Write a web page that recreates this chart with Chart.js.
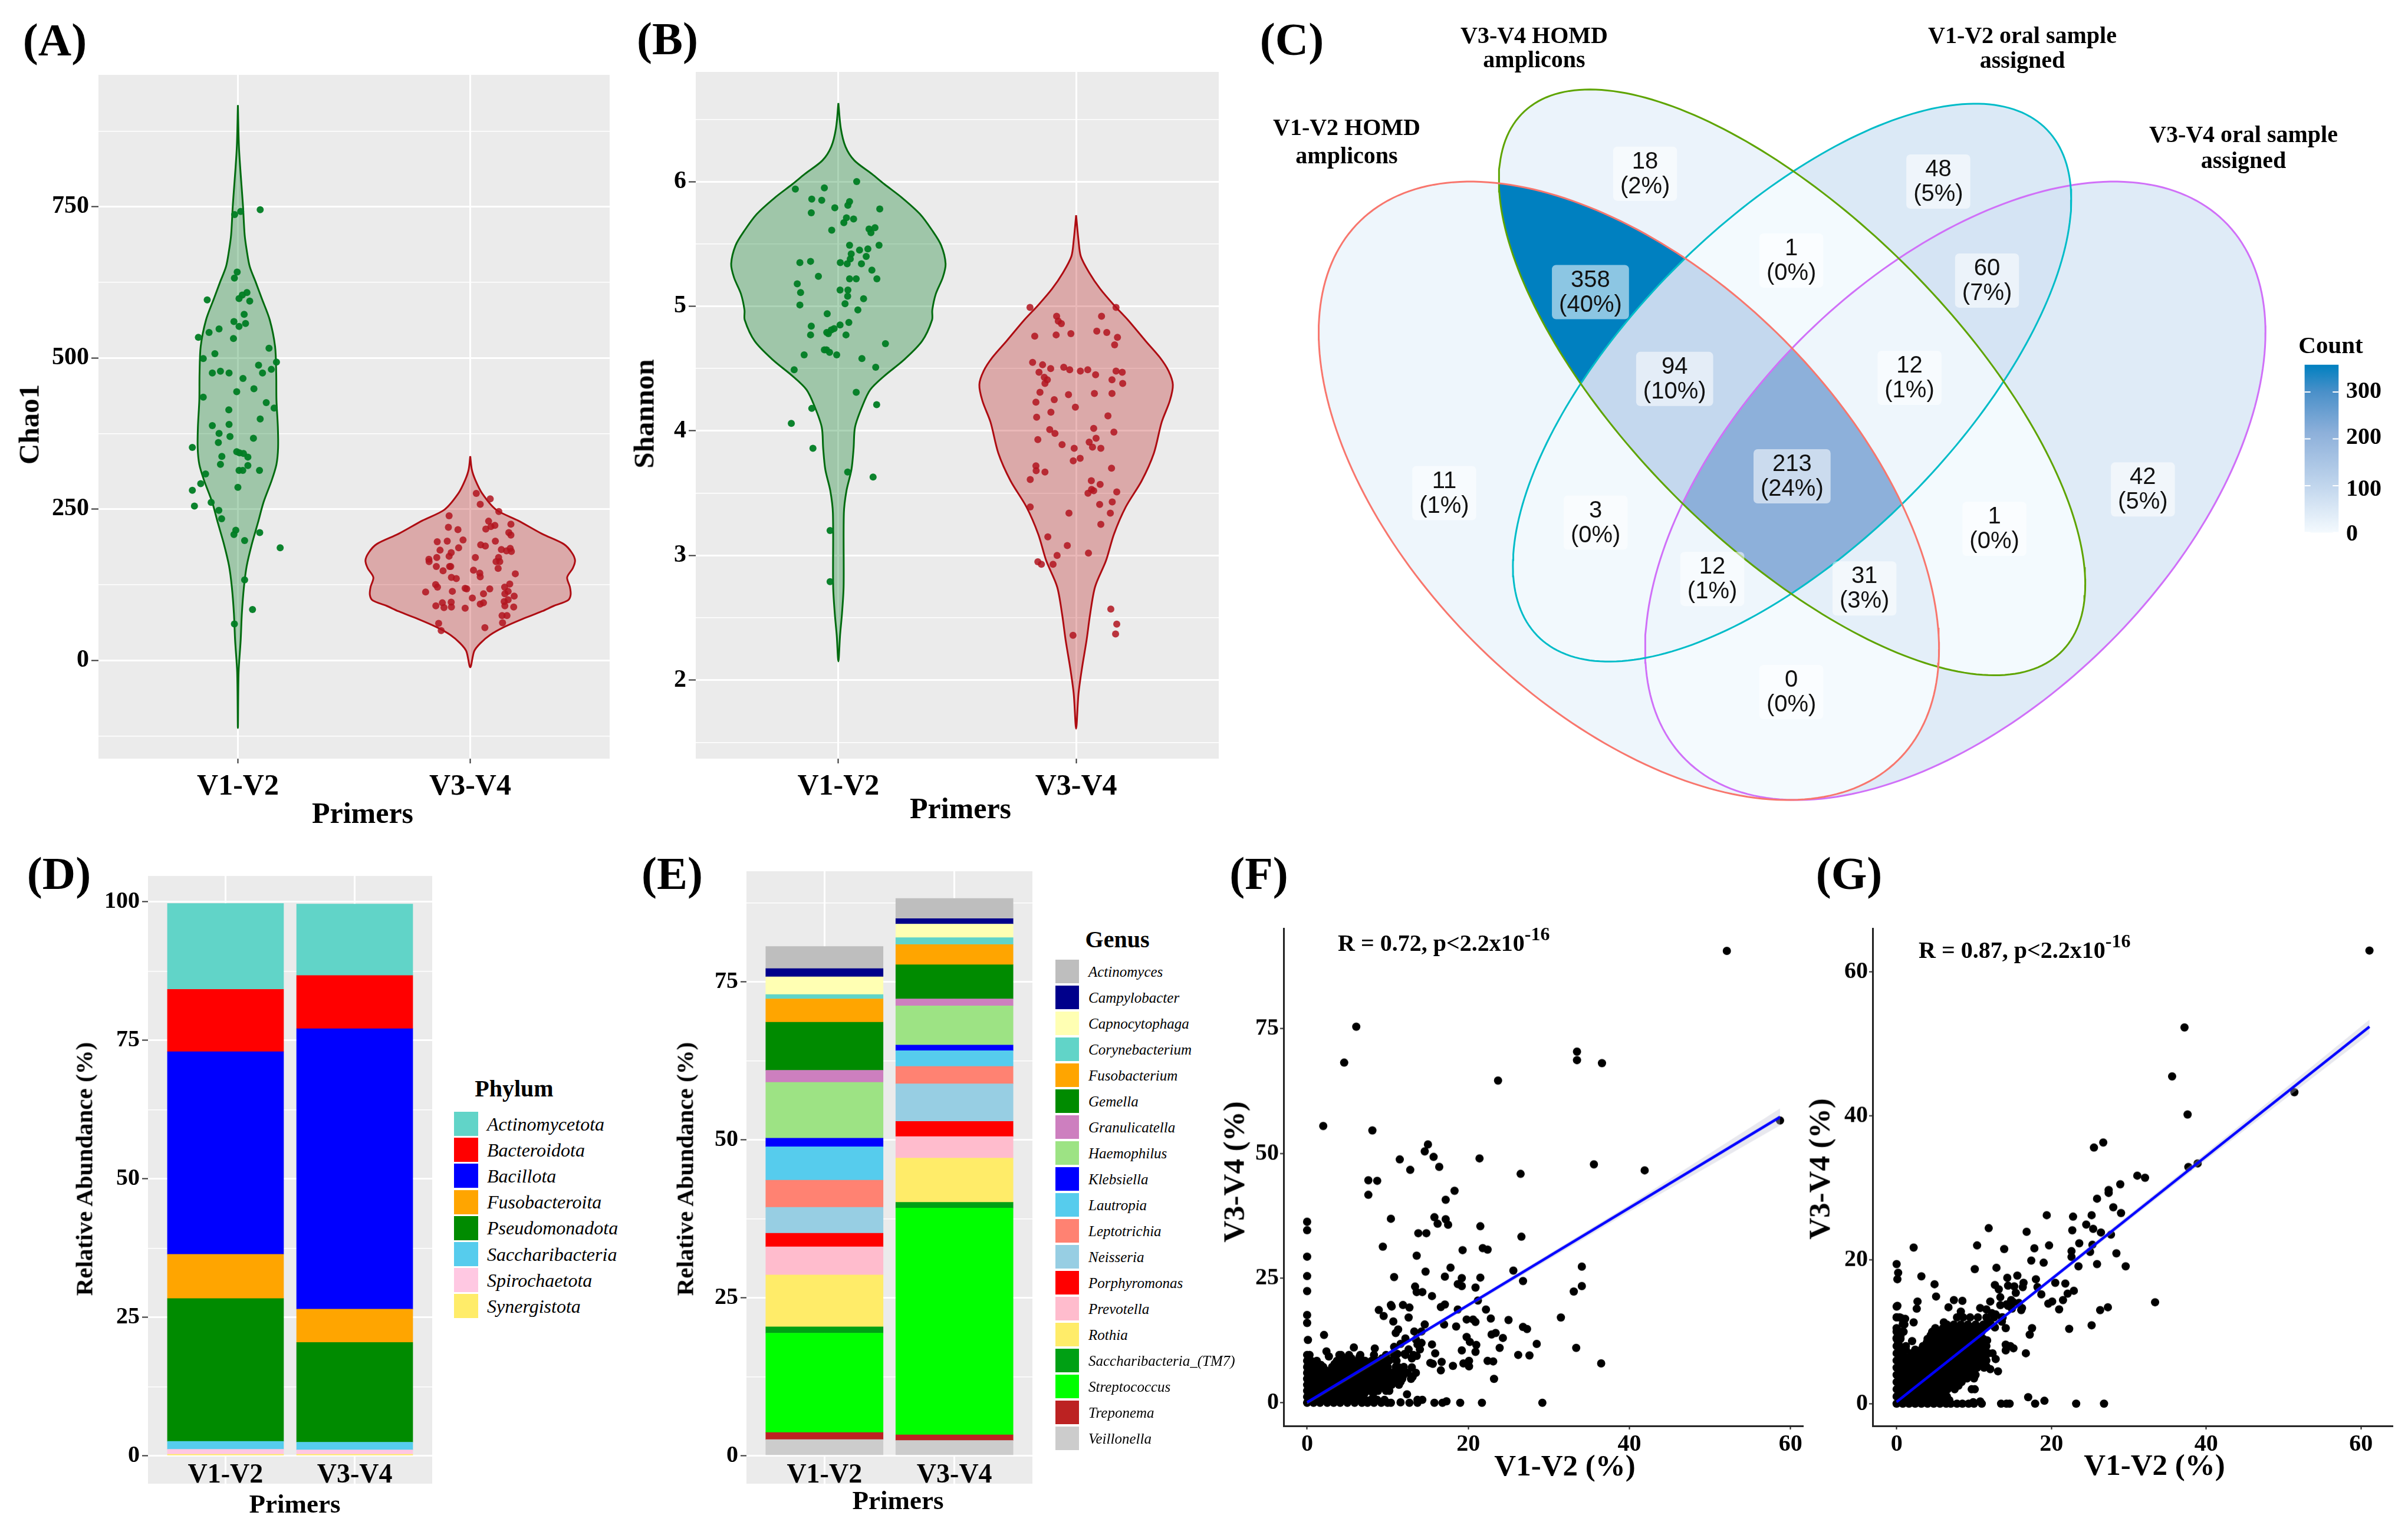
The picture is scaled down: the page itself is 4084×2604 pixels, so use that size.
<!DOCTYPE html>
<html>
<head>
<meta charset="utf-8">
<title>Primers figure</title>
<script src="https://cdn.jsdelivr.net/npm/chart.js@4"></script>
<style>
html, body { margin: 0; padding: 0; background: #fff; }
#page { position: relative; width: 4084px; height: 2604px; overflow: hidden; background: #fff; }
#page canvas { position: absolute; }
.txt { position: absolute; white-space: nowrap; line-height: 1; color: #000; z-index: 5; font-family: "Liberation Serif", serif; }
.txt sup { font-size: 0.8em; line-height: 0; vertical-align: 0.55em; }
.swatch { position: absolute; z-index: 4; }
</style>
</head>
<body>
<div id="page"></div>
<script>
var primers = ['V1-V2', 'V3-V4'];
var primerTicks = [1, 2];

// (A) Chao1 violin outlines: y value and half width in category units
var chaoTicks = [-125, 0, 125, 250, 375, 500, 625, 750, 875];
var chaoV12OutlineY = [918, 845, 751, 704, 678, 651, 625, 598, 563, 519, 474, 430, 386, 351, 324, 298, 262, 227, 192, 156, 121, 77, 33, -20, -112];
var chaoV12OutlineW = [0, .005, .022, .029, .038, .051, .077, .103, .137, .16, .165, .166, .172, .173, .166, .146, .111, .086, .06, .038, .026, .017, .012, .003, 0];
var chaoV34OutlineY = [337.5, 315, 298, 276, 249, 231, 209, 192, 178, 165, 152, 137, 121, 108, 99, 90, 81, 68, 55, 42, 28, 15, -11.5];
var chaoV34OutlineW = [0, .007, .022, .051, .111, .206, .309, .403, .437, .451, .441, .417, .429, .432, .42, .36, .309, .223, .146, .086, .043, .017, 0];

var chaoV12X = [1.096, 1.012, .986, .997, .985, 1.039, 1.019, 1.005, 1.051, .868, 1.027, .983, 1.033, 1.005, .919, .876, .83, .981, 1.134, .901, .851, 1.166, 1.089, 1.144, 1.106, .89, .925, .962, 1.022, 1.069, .995, .851, 1.122, 1.156, .961, 1.096, .962, .89, .919, .966, 1.067, .916, .804, .995, 1.007, 1.024, .931, 1.043, .925, 1.043, 1.005, 1.021, 1.093, .861, .84, 1, .804, .885, .813, .918, .93, .991, .983, 1.094, 1.029, 1.182, 1.029, 1.063, .985];
var chaoV12Y = [745, 742, 737, 642, 632, 608, 604, 598, 594, 596, 572, 560, 557, 552, 548, 542, 534, 532, 516, 507, 499, 493, 488, 481, 475, 475, 478, 475, 466, 449, 444, 435, 426, 417, 414, 399, 390, 388, 375, 370, 367, 360, 352, 345, 343, 342, 337, 336, 324, 322, 314, 314, 314, 308, 292, 286, 281, 261, 255, 248, 234, 215, 208, 211, 198, 186, 133, 84, 60];
var chaoV34X = [2.026, 2.086, 2.043, 2.123, 1.909, 2.079, 2.175, 1.906, 2.106, 2.089, 2.067, 1.947, 2.166, 2.175, 1.858, 1.901, 1.969, 2.108, 2.045, 2.065, 1.95, 1.87, 1.918, 2.134, 2.156, 2.172, 2.177, 1.856, 1.909, 1.822, 1.823, 2.022, 2.122, 2.111, 2.127, 1.911, 1.854, 1.916, 2.12, 1.883, 2.014, 2.041, 2.194, 2.043, 1.919, 1.94, 1.851, 1.859, 2.17, 2.148, 1.808, 1.923, 1.978, 1.985, 2.084, 2.057, 2.163, 2.149, 2.189, 2.009, 2.163, 2.146, 1.852, 1.88, 1.918, 1.887, 1.919, 2.043, 2.057, 1.978, 2.149, 2.187, 2.137, 2.158, 2.139, 1.864, 2.063, 1.875];
var chaoV34Y = [276, 267, 258, 246, 239, 230, 225, 220, 223, 221, 217, 216, 211, 207, 196, 197, 199, 197, 191, 189, 186, 182, 178, 183, 181, 185, 180, 170, 172, 167, 163, 170, 170, 163, 163, 155, 155, 155, 152, 148, 149, 144, 143, 138, 137, 135, 125, 121, 126, 121, 113, 114, 119, 118, 118, 110, 114, 110, 106, 103, 100, 97, 90, 95, 96, 87, 88, 93, 95, 86, 90, 88, 74, 74, 62, 61, 54, 49];

// (B) Shannon
var shanTicks = [1.5, 2, 2.5, 3, 3.5, 4, 4.5, 5, 5.5, 6, 6.5];
var shanV12OutlineY = [6.63, 6.43, 6.28, 6.17, 6.06, 5.98, 5.87, 5.74, 5.61, 5.49, 5.34, 5.23, 5.1, 4.97, 4.89, 4.72, 4.57, 4.44, 4.33, 4.2, 4.03, 3.86, 3.69, 3.52, 3.34, 2.75, 2.53, 2.36, 2.15];
var shanV12OutlineW = [0, .01, .03, .067, .142, .193, .268, .343, .394, .432, .451, .439, .41, .395, .394, .352, .276, .193, .134, .101, .07, .064, .055, .034, .023, .022, .015, .007, 0];
var shanV34OutlineY = [5.73, 5.53, 5.4, 5.27, 5.14, 5.01, 4.89, 4.72, 4.59, 4.48, 4.37, 4.24, 4.07, 3.82, 3.6, 3.39, 3.17, 2.96, 2.75, 2.53, 2.32, 2.1, 1.89, 1.61];
var shanV34OutlineW = [0, .01, .02, .055, .101, .159, .218, .293, .352, .389, .407, .394, .36, .327, .276, .209, .159, .126, .08, .059, .044, .025, .01, 0];

var shanV12X = [1.077, .941, .819, .888, .93, 1.047, 1.04, .985, 1.174, .886, 1.034, 1.064, 1.023, 1.129, 1.154, .972, 1.137, 1.047, 1.171, 1.089, 1.124, 1.054, 1.117, 1.05, .838, .883, 1.008, 1.037, 1.097, 1.141, .916, 1.047, 1.075, 1.162, .827, 1.04, 1.007, .841, 1.039, 1.106, .838, 1.028, 1.082, .953, 1.044, 1.007, .886, .982, .97, .951, .958, .883, 1.032, 1.198, .95, .941, .963, .856, .993, 1.099, .814, 1.157, 1.075, 1.161, .888, .802, .893, 1.039, 1.146, .965, .965];
var shanV12Y = [6, 5.95, 5.94, 5.86, 5.85, 5.84, 5.81, 5.79, 5.78, 5.75, 5.71, 5.7, 5.67, 5.62, 5.63, 5.61, 5.59, 5.49, 5.49, 5.45, 5.46, 5.42, 5.4, 5.38, 5.35, 5.36, 5.35, 5.34, 5.34, 5.29, 5.24, 5.22, 5.22, 5.22, 5.18, 5.13, 5.13, 5.11, 5.08, 5.06, 5.01, 5.02, 4.97, 4.94, 4.87, 4.85, 4.84, 4.82, 4.81, 4.79, 4.78, 4.77, 4.77, 4.7, 4.65, 4.65, 4.63, 4.61, 4.61, 4.58, 4.49, 4.51, 4.31, 4.21, 4.18, 4.06, 3.86, 3.67, 3.63, 3.2, 2.79];
var shanV34X = [1.806, 2.168, 1.918, 2.107, 1.925, 1.938, 2.087, 2.129, 1.978, 1.826, 1.916, 2.174, 2.162, 1.817, 1.859, 1.893, 1.948, 1.973, 2.018, 2.049, 2.168, 2.194, 1.844, 2.082, 1.866, 2.151, 1.879, 1.869, 2.196, 1.848, 1.968, 2.077, 2.151, 1.908, 1.831, 1.997, 1.894, 1.834, 2.134, 1.889, 2.074, 1.911, 2.159, 1.839, 2.084, 2.055, 1.941, 1.992, 2.069, 2.104, 2.017, 1.988, 2.149, 1.831, 1.832, 1.869, 1.807, 2.064, 2.101, 2.065, 2.074, 2.171, 2.05, 2.152, 2.099, 1.807, 1.97, 2.144, 2.104, 1.881, 1.963, 2.052, 1.92, 1.839, 1.854, 1.903, 2.146, 2.171, 2.166, 1.987];
var shanV34Y = [4.99, 4.99, 4.92, 4.92, 4.88, 4.86, 4.8, 4.79, 4.78, 4.76, 4.77, 4.75, 4.69, 4.55, 4.53, 4.5, 4.51, 4.49, 4.48, 4.49, 4.48, 4.47, 4.47, 4.45, 4.43, 4.41, 4.41, 4.38, 4.38, 4.31, 4.29, 4.3, 4.3, 4.25, 4.23, 4.19, 4.15, 4.11, 4.12, 4.01, 4.02, 3.98, 3.99, 3.93, 3.94, 3.91, 3.89, 3.86, 3.87, 3.86, 3.78, 3.76, 3.7, 3.72, 3.68, 3.67, 3.61, 3.6, 3.57, 3.53, 3.52, 3.51, 3.5, 3.43, 3.41, 3.39, 3.34, 3.34, 3.25, 3.15, 3.08, 3.02, 3, 2.95, 2.93, 2.93, 2.57, 2.45, 2.37, 2.36];

// (C) Venn regions
var vennMasks = ['R', 'G', 'C', 'M', 'RG', 'GC', 'CM', 'RC', 'RM', 'GM', 'RGC', 'GCM', 'RCM', 'RGM', 'RGCM'];
var vennCounts = [11, 18, 48, 42, 358, 1, 60, 3, 0, 1, 94, 12, 12, 31, 213];
var vennPercents = [1, 2, 5, 5, 40, 0, 7, 0, 0, 0, 10, 1, 1, 3, 24];
var countTicks = [0, 100, 200, 300];

// (D) phylum stacks, legend order
var phylumTicks = [0, 12.5, 25, 37.5, 50, 62.5, 75, 87.5, 100];
var phylumNames = ['Actinomycetota', 'Bacteroidota', 'Bacillota', 'Fusobacteroita', 'Pseudomonadota', 'Saccharibacteria', 'Spirochaetota', 'Synergistota'];
var phylumV12 = [15.5, 11.25, 36.55, 8, 25.75, 1.45, .9, .3];
var phylumV34 = [12.9, 9.6, 50.6, 6, 18, 1.4, .8, .3];

// (E) genus stacks, legend order
var genusTicks = [0, 12.5, 25, 37.5, 50, 62.5, 75, 87.5];
var genusNames = ['Actinomyces', 'Campylobacter', 'Capnocytophaga', 'Corynebacterium', 'Fusobacterium', 'Gemella', 'Granulicatella', 'Haemophilus', 'Klebsiella', 'Lautropia', 'Leptotrichia', 'Neisseria', 'Porphyromonas', 'Prevotella', 'Rothia', 'Saccharibacteria_(TM7)', 'Streptococcus', 'Treponema', 'Veillonella'];
var genusV12 = [3.5, 1.3, 2.8, .7, 3.7, 7.6, 1.9, 8.85, 1.35, 5.3, 4.3, 4.1, 2.15, 4.45, 8.2, 1, 15.74, 1.12, 2.54];
var genusV34 = [3.2, .85, 2.15, 1.1, 3.2, 5.4, 1.1, 6.2, .9, 2.5, 2.75, 5.95, 2.4, 3.4, 7, .9, 35.9, .9, 2.4];

// (F) scatter
var fXTicks = [0, 20, 40, 60];
var fYTicks = [0, 25, 50, 75];
var fX = [52.1, 6.1, 4.6, 33.5, 33.5, 36.6, 23.7, 2, 8.1, 58.7, 15, 14.6, 11.5, 15.7, 21.4, 16.4, 12.8, 26.5, 35.6, 41.9, 7.6, 8.7, 7.6, 18.3, 17.2, 0, 10.4, 0, 15.8, 16.2, 17.2, 17.5, 21.5, 13.8, 14.8, 9.4, 26.6, 19.3, 21.8, 22.4, 13.6, 0, 17.8, 34.1, 25.6, 14.7, 0, 10.8, 17.1, 19.2, 21.5, 26.8, 18.7, 19.2, 20.9, 13.4, 34.1, 33.1, 0, 13.6, 14.3, 15.5, 11.9, 10.4, 10.5, 16.6, 17.1, 12.7, 8.9, 18.7, 22.2, 21.2, 9.5, 12.6, 0, 19.8, 20.6, 20.9, 22.8, 25, 31.5, 10.7, 0, 14.6, 17, 18.5, 26.8, 27.3, 11.3, 11, 13.3, 14.2, 2.1, 23.4, 22.9, 19.8, 24.3, 20.2, 12.2, .1, 15.5, 21, 28.5, 13.7, 23.9, 33.4, 19.2, 20.9, 5.8, 8.4, 10.8, 11.6, 15.9, 26.2, 27.6, 2.4, 2.7, 4, 6.5, 20.1, 22.4, 23.1, 36.5, 15.3, 19.4, 16.7, 15.6, 18.1, 20.1, 16.6, 23.2, 13.1, 12.4, 1.7, .8, 11.6, 12.7, 13.7, 13.7, 14.3, 15.8, 16.8, 17.3, 19, 21.7, 29.2, 13.6, 14, 12.1, 12.6, 13, 14.2, 13.5, 11.2, 10.2, 9.8, 11.4, 13, 12.1, 9.3, 8.3, 6.9, 5.5, 4.3, 4.8, 3.2];
var fY = [90.6, 75.4, 68.2, 70.4, 68.7, 68.1, 64.6, 55.5, 54.6, 56.6, 51.8, 50.4, 48.8, 49.3, 49, 47.3, 46.7, 45.9, 47.8, 46.6, 44.6, 44.5, 41.7, 42.5, 40.7, 36.3, 36.9, 34.6, 37.2, 35.9, 36.8, 35.7, 35.4, 34, 34, 31.3, 33.3, 30.6, 31, 30.7, 29.5, 29.3, 27.1, 27.3, 26.5, 26.3, 25.4, 25.2, 25.3, 25, 25.1, 24.4, 23.8, 23.4, 23.1, 23.3, 23.4, 22.3, 22.4, 22.2, 22.2, 21.4, 19.6, 19.6, 19.3, 19.2, 19.7, 19.1, 18.6, 18.7, 18.7, 20.5, 17.4, 17.1, 17.6, 16.7, 16.7, 16.2, 16.9, 16.6, 17.1, 16.3, 16, 15.7, 15.7, 15.3, 15.2, 14.8, 14.7, 14, 14.3, 14.3, 13.6, 14, 13.7, 13.2, 13, 12.2, 12.9, 12.6, 11.7, 11.6, 11.8, 11.7, 11, 11, 10.5, 10.2, 11.1, 10.9, 11.2, 11.8, 9.9, 9.6, 9.5, 10.3, 9.3, 9.6, 9.2, 8.4, 8.4, 8.3, 7.9, 8, 7.9, 8.2, 7.8, 7.4, 7.3, 6.5, 4.8, 5.2, 1.7, 7.6, 8.2, .1, 0, 0, .6, .6, 0, 0, .3, 0, 0, 0, 9.4, 10.7, 9.8, 10.7, 8.9, 12, 12.7, 9.8, 8.5, 7.1, 7.1, 7.1, 6.3, 8.9, 8.5, 8.5, 8.9, 8, 8.9, 7.1];
var fClusterY = [0, .6, 1.2, 1.8, 2.4, 3, 3.6, 4.2, 4.8, 5.4, 6, 6.6, 7.2, 7.8, 8.4, 9.6];
var fClusterX = [
    [0, .8, 1.6, 2.5, 3.3, 4.1, 5, 5.9, 6.8, 7.5, 8.3, 9.2, 10, 10.4],
    [.4, 1.2, 2, 2.9, 3.7, 4.6, 5.5, 6.4, 7.2, 7.9, 8.7, 9.6],
    [0, .9, 1.7, 2.6, 3.4, 4.3, 5.1, 6, 6.6],
    [.4, 1.3, 2.1, 3, 3.8, 4.7, 5.5, 6.3, 7.1, 8.2],
    [0, .8, 1.6, 2.5, 3.4, 4.2, 5, 5.8, 6.7, 7.5, 8.8, 9.8, 10.2],
    [.4, 1.2, 2.1, 3, 3.8, 4.7, 5.6, 6.4, 7.3, 8.1, 9, 10],
    [0, .9, 1.8, 2.6, 3.5, 4.3, 5.2, 6, 6.9, 7.7, 8.6, 9.5, 10.5, 11.4],
    [.4, 1.3, 2.1, 3, 3.8, 4.7, 5.6, 6.3, 7.2, 8, 8.9, 9.8, 10.7, 11.6],
    [0, .8, 1.7, 2.5, 3.4, 4.2, 5, 5.9, 6.7, 7.6, 8.4, 9.3, 10.1, 11, 11.8, 12.9],
    [.4, 1.3, 2.1, 3, 3.9, 4.8, 5.6, 6.5, 7.4, 8.3, 9.1, 10, 10.8, 11.9],
    [0, .9, 1.7, 2.6, 3.5, 4.4, 5.2, 6.1, 7, 7.9, 8.7, 9.6, 10.4, 11.3, 12.5, 13.5],
    [.4, 1.2, 2.2, 3, 3.9, 4.8, 5.7, 6.6, 7.5, 8.4, 9.2, 10, 11],
    [0, .8, 2, 3.1, 3.9, 4.8, 5.7, 6.6, 7.4, 8.3, 9.2, 10, 11, 12],
    [.3, 1, 3.4, 4.3, 5.1, 6, 6.9, 7.8, 8.7, 9.5],
    [0, .5, 1.2, 3.7, 4.6, 5.4, 6.3, 7.2, 8, 8.9, 9.9, 11.1],
    [0, .3, 4.2, 5.2, 6.6, 8.3, 9.8, 10.8, 12.2, 13.2]
];
var fLineX = [0, 58.7];
var fLineY = [.1, 57.3];
var fBandX = [0, 20, 40, 58.7];
var fBandHi = [.3, 19.9, 39.7, 59];
var fBandLo = [-.3, 19.1, 38.3, 55.6];

// (G) scatter
var gXTicks = [0, 20, 40, 60];
var gYTicks = [0, 20, 40, 60];
var gX = [61.1, 37.2, 35.6, 51.4, 37.6, 26.7, 25.5, 38.9, 37.7, 31.1, 32.1, 28.9, 27.4, 27.4, 25.9, 28, 29, 19.4, 25.2, 22.8, 26.4, 24.5, 25.4, 11.9, 16.8, 22.7, 27.7, 23.6, 25.3, 2.2, 10.4, 13.9, 17.8, 19.7, 22.6, 25, 28.4, 22.6, 17.4, 19, 0, 25.9, 23.5, 29.6, 10.1, 12.9, .2, 3.2, .1, 14.3, 15.6, 18, 20.5, 21.8, 12.7, 4.9, 15.2, 16.4, 16.3, 18.2, 22.9, 22.1, 21.5, 33.4, 18.7, 5.1, 2.7, 7.4, 8.5, 19.6, 20.1, 21, 16.1, 27.3, 26.3, 6.7, .1, 0, 2.6, 10.8, 11.6, 12.1, 13.4, 14.4, 8.3, 7.8, 0, .6, 2.2, 1.1, .8, 6.1, 22.3, 25.2, 14.1, 17.5, 17.2, 0, .9, 10, 0, 2, .5, 14.1, 14.7, 15.1, 14.1, 16.7, 12.8, 10, 11.6, 12.1, 13.1, 17, 17.9, 19.1, 23.2, 26.8, 13.5, 14.2, 14.6, 11, 10.8, 9.9, 13.2, 14.4, 15.4, 14.8, 14.2, 13.4, 12.8, 13.7, 14.9, 16.2, 15.8, 15.1, 13.6, 12.3, 11.8, 11.4, 12.7, 11.7, 10.7, 11.4, 11.9, 10.5];
var gY = [63, 52.3, 45.5, 43.3, 40.2, 36.3, 35.6, 33.4, 32.9, 31.7, 31.4, 30.5, 29.7, 29.3, 28.5, 27.3, 26.5, 26.2, 26.2, 26, 23.8, 24.9, 24.3, 24.4, 23.9, 24.1, 23.5, 22.3, 22.1, 21.7, 22, 21.5, 21.6, 22, 21.2, 21.1, 20.9, 20.4, 19.9, 19.6, 19.4, 19.4, 19.1, 19.1, 18.7, 18.9, 18.2, 17.7, 17.3, 17.5, 17.8, 17.3, 16.8, 16.7, 16.5, 16.6, 16.3, 16.8, 16.2, 16.2, 15.7, 15.3, 14.4, 14.1, 15.2, 14.9, 14.2, 14.4, 14.3, 13.9, 14.2, 13.1, 13, 13.4, 13, 13.4, 13.6, 13.5, 13.2, 13.3, 13.1, 14.2, 13.7, 13.6, 12.8, 12, 12, 11.9, 11.3, 11.8, 11.1, 11.3, 10.4, 10.9, 10.5, 10.5, 9.6, 10.5, 10, 10.7, 9.1, 8.7, 9.4, 8.2, 8, 7.7, 7.4, 7, 6.2, 3.5, 5.2, 4.8, 4.5, .9, 0, .4, 0, 0, 0, 0, 0, 0, .3, .2, 15.9, 16.4, 15.4, 14.4, 13.8, 14.8, 12.4, 12, 13.2, 13.3, 14, 14.1, 11.4, 12.6, 11.4, 10.8, 10.6, 8.8, 8.2, 7.6, 7, 7];
var gClusterY = [0, .5, 1, 1.5, 2, 2.5, 3, 3.5, 4, 4.5, 5, 5.5, 6, 6.5, 7, 7.5, 8, 8.5, 9, 9.5, 10, 10.5, 11, 12];
var gClusterX = [
    [0, .8, 1.6, 2.4, 3.2, 4, 4.8, 5.6, 6.4, 7, 7.8, 8.5, 9.3, 10],
    [.4, 1.2, 2, 2.8, 3.6, 4.4, 5.2, 6, 6.8],
    [0, .9, 1.7, 2.5, 3.3, 4.1, 4.9, 5.4, 6.5],
    [.4, 1.3, 2.1, 2.9, 3.7, 4.5, 5.2, 6],
    [0, .8, 1.6, 2.4, 3.3, 4.1, 5, 5.8, 6.6, 7.5, 9.7, 10.1],
    [.4, 1.2, 2, 2.9, 3.7, 4.6, 5.4, 6.3, 7.1, 8],
    [0, .9, 1.7, 2.6, 3.4, 4.3, 5.1, 6, 6.9, 7.8, 8.4],
    [.4, 1.3, 2.1, 3, 3.8, 4.7, 5.6, 6.5, 7.4, 8.2, 9.1],
    [0, .8, 1.7, 2.6, 3.4, 4.3, 5.2, 6.1, 7, 7.8, 8.7, 9.6, 10.2],
    [.4, 1.3, 2.1, 3, 3.9, 4.8, 5.7, 6.6, 7.4, 8.3, 9.2, 10],
    [0, .9, 1.8, 2.7, 3.6, 4.5, 5.4, 6.3, 7.1, 8, 8.9, 9.7, 10.4, 11.3],
    [.4, 1.2, 2.2, 3.1, 4, 4.9, 5.8, 6.7, 7.6, 8.5, 9.3, 10.1, 11],
    [0, .7, 1.5, 2.6, 3.5, 4.4, 5.3, 6.2, 7.1, 8, 8.9, 9.8, 10.7, 11.6],
    [.4, 1.1, 2.1, 3, 3.9, 4.8, 5.7, 6.6, 7.5, 8.4, 9.3, 10.2, 11.2],
    [0, .8, 1.9, 2.8, 3.7, 4.6, 5.5, 6.4, 7.3, 8.2, 9.1, 10, 10.9, 11.7, 12.4],
    [.4, 1.2, 2.4, 3.2, 4.1, 5, 5.9, 6.8, 7.7, 8.6, 9.5, 10.4, 11.3],
    [0, .4, 1.2, 3.4, 4.4, 5.3, 6.2, 7.1, 8, 8.9, 9.8, 10.7, 11.6],
    [.2, 3.9, 4.8, 5.7, 6.6, 7.5, 8.4, 9.3, 10.2, 11.1],
    [0, .5, 4, 4.9, 5.8, 6.7, 7.6, 8.5, 9.4, 10.3, 11.2],
    [4.4, 5.3, 6.2, 7.2, 8, 8.9, 9.8, 10.7],
    [0, .6, 4.6, 5.5, 6.5, 7.5, 8.4, 9.3, 10.2, 11],
    [5, 6, 7, 7.9, 8.8, 9.7, 10.6],
    [1, 6.5, 7.4, 8.3, 9.2, 10.2, 11.2, 12.2],
    [0, .4, 8.6, 9.5, 10.5, 11.6, 12.6, 13.6]
];
var gLineX = [0, 61.1];
var gLineY = [.25, 52.4];
var gBandX = [0, 20, 40, 61.1];
var gBandHi = [.4, 17.6, 34.9, 53.4];
var gBandLo = [.1, 17, 33.9, 51.4];

// styles
var SERIF = '"Liberation Serif", "Times New Roman", serif';
var phylumColors = ['#61D4C8', '#FF0000', '#0000FF', '#FFA500', '#008B00', '#56CCED', '#FFC8E2', '#FFEC69'];
var genusColors = ['#BEBEBE', '#00008B', '#FFFFB3', '#61D4C8', '#FFA500', '#008B00', '#CD7FBF', '#9DE384', '#0000FF', '#56CCED', '#FF8272', '#97CEE3', '#FF0000', '#FFBCCD', '#FFEC69', '#00A014', '#00FF00', '#BC2222', '#CCCCCC'];

var page = document.getElementById('page');
Chart.defaults.animation = false;
Chart.defaults.font.family = SERIF;
Chart.defaults.color = '#000';
Chart.defaults.plugins.legend.display = false;
Chart.defaults.plugins.tooltip.enabled = false;

function addText(html, x, y, font, opts) {
    opts = opts || {};
    var d = document.createElement('div');
    d.className = 'txt';
    d.innerHTML = html;
    d.style.left = x + 'px';
    d.style.top = y + 'px';
    d.style.font = font;
    d.style.lineHeight = '1';
    var shift = opts.left ? 'translate(0,-50%)' : 'translate(-50%,-50%)';
    d.style.transform = shift + (opts.rotate ? ' rotate(' + opts.rotate + 'deg)' : '');
    page.appendChild(d);
}

var panelBg = {
    id: 'panelBg',
    beforeDraw: function (chart, args, o) {
        if (!o.color) return;
        var a = chart.chartArea;
        chart.ctx.save();
        chart.ctx.fillStyle = o.color;
        chart.ctx.fillRect(a.left, a.top, a.right - a.left, a.bottom - a.top);
        chart.ctx.restore();
    }
};
Chart.register(panelBg);

// canvas is placed so that the plot area lands exactly on plot
function makeChart(plot, m, config) {
    var c = document.createElement('canvas');
    var w = plot.r - plot.l + m.l + m.r, h = plot.b - plot.t + m.t + m.b;
    c.width = w; c.height = h;
    c.style.left = (plot.l - m.l) + 'px';
    c.style.top = (plot.t - m.t) + 'px';
    c.style.width = w + 'px';
    c.style.height = h + 'px';
    page.appendChild(c);
    config.options.responsive = false;
    config.options.devicePixelRatio = 1;
    config.options.layout = { padding: { top: m.t, right: m.r, left: 0, bottom: 0 } };
    config.options.scales.x.afterFit = function (s) { s.height = m.b; };
    config.options.scales.y.afterFit = function (s) { s.width = m.l; };
    return new Chart(c, config);
}

function fixedTicks(values) {
    return function (scale) {
        scale.ticks = values.map(function (v) { return { value: v }; });
    };
}

function ggAxis(min, max, values, isMajor, labelOf, fontSize, tickLen, pad) {
    return {
        type: 'linear', min: min, max: max, offset: false,
        afterBuildTicks: fixedTicks(values),
        grid: {
            offset: false,
            color: '#fff',
            lineWidth: function (ctx) { return ctx.tick && isMajor(ctx.tick.value) ? 3 : 1.5; },
            tickColor: function (ctx) { return ctx.tick && isMajor(ctx.tick.value) ? '#333' : 'rgba(0,0,0,0)'; },
            tickWidth: 2,
            tickLength: tickLen,
            drawTicks: tickLen > 0
        },
        border: { display: false },
        ticks: {
            autoSkip: false, maxRotation: 0, minRotation: 0,
            padding: pad,
            font: { size: fontSize, weight: 'bold', family: SERIF },
            color: '#000',
            callback: function (v) { return isMajor(v) ? labelOf(v) : ''; }
        }
    };
}

function primerLabel(v) { return primers[v - 1]; }
function always() { return true; }

function zipXY(xs, ys) {
    return xs.map(function (x, i) { return { x: x, y: ys[i] }; });
}

function violinData(center, ys, ws) {
    var pts = [];
    ys.forEach(function (y, i) { pts.push({ x: center + ws[i], y: y }); });
    for (var i = ys.length - 2; i > 0; i--) pts.push({ x: center - ws[i], y: ys[i] });
    pts.push(pts[0]);
    return pts;
}

function violinSets(line, fill, dot, center, oy, ow, xs, ys) {
    return [
        { data: zipXY(xs, ys), backgroundColor: dot, borderWidth: 0, pointRadius: 6, showLine: false },
        { data: violinData(center, oy, ow), borderColor: line, backgroundColor: fill, borderWidth: 3, pointRadius: 0, showLine: true, fill: 'shape', tension: 0.3 }
    ];
}

var GREEN_LINE = '#006B0F', GREEN_FILL = 'rgba(0,120,30,0.32)', GREEN_DOT = 'rgba(0,125,35,0.95)';
var RED_LINE = '#AE0C12', RED_FILL = 'rgba(178,0,0,0.28)', RED_DOT = 'rgba(178,20,30,0.85)';

function violinChart(plot, m, yMin, yMax, yTicks, yMajor, sets) {
    return makeChart(plot, m, {
        type: 'scatter',
        data: { datasets: sets },
        options: {
            plugins: { panelBg: { color: '#EBEBEB' } },
            scales: {
                x: ggAxis(.4, 2.6, primerTicks, always, primerLabel, 50, 8, 10),
                y: ggAxis(yMin, yMax, yTicks, yMajor, function (v) { return v; }, 42, 12, 4)
            }
        }
    });
}

// A
violinChart({ l: 167, t: 127, r: 1034, b: 1287 }, { l: 167, t: 40, r: 30, b: 90 }, -162.7, 968, chaoTicks,
    function (v) { return v % 250 === 0; },
    violinSets(GREEN_LINE, GREEN_FILL, GREEN_DOT, 1, chaoV12OutlineY, chaoV12OutlineW, chaoV12X, chaoV12Y)
        .concat(violinSets(RED_LINE, RED_FILL, RED_DOT, 2, chaoV34OutlineY, chaoV34OutlineW, chaoV34X, chaoV34Y)));
addText('(A)', 93, 68, 'bold 78px ' + SERIF);
addText('Primers', 615, 1379, 'bold 50px ' + SERIF);
addText('Chao1', 49, 720, 'bold 49px ' + SERIF, { rotate: -90 });

// B
violinChart({ l: 1180, t: 122, r: 2067, b: 1287 }, { l: 110, t: 40, r: 30, b: 90 }, 1.37, 6.88, shanTicks,
    function (v) { return v % 1 === 0; },
    violinSets(GREEN_LINE, GREEN_FILL, GREEN_DOT, 1, shanV12OutlineY, shanV12OutlineW, shanV12X, shanV12Y)
        .concat(violinSets(RED_LINE, RED_FILL, RED_DOT, 2, shanV34OutlineY, shanV34OutlineW, shanV34X, shanV34Y)));
addText('(B)', 1132, 66, 'bold 78px ' + SERIF);
addText('Primers', 1629, 1371, 'bold 50px ' + SERIF);
addText('Shannon', 1092, 702, 'bold 49px ' + SERIF, { rotate: -90 });

// C
var vennShapes = [
    { id: 'R', cx: 513, cy: 932.5, sx: 420, sy: 587.5, rho: .512, color: '#F8766D' },
    { id: 'G', cx: 734, cy: 726.5, sx: 397, sy: 556.5, rho: .69, color: '#5EA400' },
    { id: 'C', cx: 734, cy: 727, sx: 378, sy: 530, rho: -.656, color: '#00BCC8' },
    { id: 'M', cx: 955, cy: 932.5, sx: 420, sy: 587.5, rho: -.512, color: '#D070F8' }
];
var vennLabelX = [263, 535, 932, 1209, 461, 733, 998, 468, 733, 1008, 575, 893, 626, 832, 734];
var vennLabelY = [937, 330, 345, 930, 555, 495, 533, 993, 1315, 1005, 720, 718, 1100, 1118, 905];
var countStops = [[0, [244, 250, 254]], [94, [196, 216, 238]], [213, [141, 176, 218]], [300, [74, 144, 201]], [358, [0, 128, 192]]];

function countColor(v) {
    for (var i = 1; i < countStops.length; i++) {
        if (v <= countStops[i][0]) {
            var a = countStops[i - 1], b = countStops[i];
            var t = (v - a[0]) / (b[0] - a[0]);
            return 'rgb(' + [0, 1, 2].map(function (k) { return Math.round(a[1][k] + (b[1][k] - a[1][k]) * t); }).join(',') + ')';
        }
    }
    return 'rgb(0,128,192)';
}

function ellipseOutline(e) {
    var pts = [], phi = Math.acos(e.rho);
    for (var i = 0; i <= 240; i++) {
        var t = i / 240 * 2 * Math.PI;
        pts.push({ x: e.cx + e.sx * Math.cos(t), y: e.cy + e.sy * Math.cos(t - phi) });
    }
    return pts;
}

function tracePts(ctx, pts) {
    pts.forEach(function (p, i) {
        if (i === 0) ctx.moveTo(p.x, p.y); else ctx.lineTo(p.x, p.y);
    });
    ctx.closePath();
}

var vennPlugin = {
    id: 'vennRegions',
    beforeDatasetsDraw: function (chart) {
        var ctx = chart.ctx;
        var outlines = {};
        vennShapes.forEach(function (e, i) { outlines[e.id] = chart.getDatasetMeta(i).data; });
        vennMasks.forEach(function (mask, r) {
            ctx.save();
            vennShapes.forEach(function (e) {
                ctx.beginPath();
                if (mask.indexOf(e.id) >= 0) {
                    tracePts(ctx, outlines[e.id]);
                    ctx.clip();
                } else {
                    ctx.rect(0, 0, chart.width, chart.height);
                    tracePts(ctx, outlines[e.id]);
                    ctx.clip('evenodd');
                }
            });
            ctx.fillStyle = countColor(vennCounts[r]);
            ctx.fillRect(0, 0, chart.width, chart.height);
            ctx.restore();
        });
        // colour bar
        var x = chart.scales.x, y = chart.scales.y;
        var top = y.getPixelForValue(693), bot = y.getPixelForValue(1012);
        var left = x.getPixelForValue(1428), right = x.getPixelForValue(1474);
        var grad = ctx.createLinearGradient(0, bot, 0, top);
        countStops.forEach(function (s) { grad.addColorStop(s[0] / 358, countColor(s[0])); });
        ctx.fillStyle = grad;
        ctx.fillRect(left, top, right - left, bot - top);
        ctx.strokeStyle = '#fff';
        ctx.lineWidth = 2;
        countTicks.forEach(function (v) {
            var py = bot + (top - bot) * v / 358;
            ctx.beginPath();
            ctx.moveTo(left, py); ctx.lineTo(left + 10, py);
            ctx.moveTo(right - 10, py); ctx.lineTo(right, py);
            ctx.stroke();
        });
    },
    afterDatasetsDraw: function (chart) {
        var ctx = chart.ctx;
        var x = chart.scales.x, y = chart.scales.y;
        ctx.save();
        ctx.font = '40px "Liberation Sans", Arial, sans-serif';
        ctx.textAlign = 'center';
        ctx.textBaseline = 'middle';
        vennMasks.forEach(function (mask, r) {
            var px = x.getPixelForValue(vennLabelX[r]), py = y.getPixelForValue(vennLabelY[r]);
            var l1 = String(vennCounts[r]), l2 = '(' + vennPercents[r] + '%)';
            var w = ctx.measureText(l2).width + 24;
            ctx.fillStyle = 'rgba(255,255,255,0.55)';
            ctx.beginPath();
            ctx.roundRect(px - w / 2, py - 46, w, 92, 7);
            ctx.fill();
            ctx.fillStyle = '#111';
            ctx.fillText(l1, px, py - 20);
            ctx.fillText(l2, px, py + 22);
        });
        ctx.restore();
    }
};

makeChart({ l: 2120, t: 0, r: 4084, b: 1400 }, { l: 0, t: 0, r: 0, b: 0 }, {
    type: 'scatter',
    plugins: [vennPlugin],
    data: {
        datasets: vennShapes.map(function (e) {
            return { data: ellipseOutline(e), borderColor: e.color, borderWidth: 3, pointRadius: 0, showLine: true, fill: false };
        })
    },
    options: {
        scales: {
            x: { type: 'linear', min: 0, max: 1568, display: false },
            y: { type: 'linear', min: 0, max: 1568, reverse: true, display: false }
        }
    }
});
addText('(C)', 2191, 67, 'bold 78px ' + SERIF);
addText('V3-V4 HOMD', 2602, 60, 'bold 40px ' + SERIF);
addText('amplicons', 2602, 101, 'bold 40px ' + SERIF);
addText('V1-V2 oral sample', 3430, 60, 'bold 40px ' + SERIF);
addText('assigned', 3430, 102, 'bold 40px ' + SERIF);
addText('V1-V2 HOMD', 2284, 216, 'bold 40px ' + SERIF);
addText('amplicons', 2284, 264, 'bold 40px ' + SERIF);
addText('V3-V4 oral sample', 3805, 228, 'bold 40px ' + SERIF);
addText('assigned', 3805, 272, 'bold 40px ' + SERIF);
addText('Count', 3953, 585, 'bold 41px ' + SERIF);
addText(String(countTicks[3]), 3979, 662, 'bold 40px ' + SERIF, { left: true });
addText(String(countTicks[2]), 3979, 740, 'bold 40px ' + SERIF, { left: true });
addText(String(countTicks[1]), 3979, 828, 'bold 40px ' + SERIF, { left: true });
addText(String(countTicks[0]), 3979, 904, 'bold 40px ' + SERIF, { left: true });

// D and E
function stackChart(plot, m, yMin, yMax, yTicks, names, colors, v12, v34, barW) {
    var sets = [];
    for (var i = names.length - 1; i >= 0; i--) {
        sets.push({
            label: names[i],
            stack: 'all',
            backgroundColor: colors[i],
            barThickness: barW,
            borderWidth: 0,
            data: [{ x: 1, y: v12[i] }, { x: 2, y: v34[i] }]
        });
    }
    var xAxis = ggAxis(.4, 2.6, primerTicks, always, primerLabel, 46, 0, -14);
    xAxis.stacked = true;
    // labels sit inside the panel; mirror stops the scale clipping them
    xAxis.ticks.mirror = true;
    var yAxis = ggAxis(yMin, yMax, yTicks, function (v) { return v % 25 === 0; }, function (v) { return v; }, 40, 10, 4);
    yAxis.stacked = true;
    return makeChart(plot, m, {
        type: 'bar',
        data: { datasets: sets },
        options: {
            plugins: { panelBg: { color: '#EBEBEB' } },
            scales: { x: xAxis, y: yAxis }
        }
    });
}

function legendBlock(title, tx, ty, names, colors, boxX, boxY, boxW, boxH, step, textX, fontSize) {
    addText(title, tx, ty, 'bold 40px ' + SERIF);
    names.forEach(function (n, i) {
        var s = document.createElement('div');
        s.className = 'swatch';
        s.style.left = boxX + 'px';
        s.style.top = (boxY + i * step) + 'px';
        s.style.width = boxW + 'px';
        s.style.height = boxH + 'px';
        s.style.background = colors[i];
        page.appendChild(s);
        addText(n, textX, boxY + i * step + boxH / 2, 'italic ' + fontSize + 'px ' + SERIF, { left: true });
    });
}

stackChart({ l: 251, t: 1486, r: 733, b: 2517 }, { l: 130, t: 30, r: 30, b: 40 }, -5, 104.65, phylumTicks, phylumNames, phylumColors, phylumV12, phylumV34, 197);
addText('(D)', 100, 1482, 'bold 78px ' + SERIF);
addText('Primers', 500, 2551, 'bold 45px ' + SERIF);
addText('Relative Abundance (%)', 143, 1983, 'bold 41px ' + SERIF, { rotate: -90 });
legendBlock('Phylum', 872, 1847, phylumNames, phylumColors, 770, 1886, 41, 41, 44.2, 826, 32);

stackChart({ l: 1266, t: 1478, r: 1751, b: 2517 }, { l: 110, t: 30, r: 30, b: 40 }, -4.44, 92.5, genusTicks, genusNames, genusColors, genusV12, genusV34, 199);
addText('(E)', 1140, 1482, 'bold 78px ' + SERIF);
addText('Primers', 1523, 2545, 'bold 45px ' + SERIF);
addText('Relative Abundance (%)', 1162, 1983, 'bold 41px ' + SERIF, { rotate: -90 });
legendBlock('Genus', 1895, 1594, genusNames, genusColors, 1790, 1628, 40, 40, 44, 1846, 25);

// F and G
function classicAxis(min, max, values) {
    return {
        type: 'linear', min: min, max: max,
        afterBuildTicks: fixedTicks(values),
        grid: { drawOnChartArea: false, tickLength: 6, tickWidth: 2, tickColor: '#222' },
        border: { display: true, color: '#222', width: 3 },
        ticks: {
            autoSkip: false, maxRotation: 0, minRotation: 0, padding: 2,
            font: { size: 40, weight: 'bold', family: SERIF }, color: '#000'
        }
    };
}

function scatterChart(plot, xAxis, yAxis, xs, ys, rowX, rowY, lineX, lineY, bandX, bandHi, bandLo) {
    var pts = zipXY(xs, ys);
    rowX.forEach(function (row, i) {
        row.forEach(function (x) { pts.push({ x: x, y: rowY[i] }); });
    });
    var band = zipXY(bandX, bandHi);
    for (var i = bandX.length - 1; i >= 0; i--) band.push({ x: bandX[i], y: bandLo[i] });
    return makeChart(plot, { l: 90, t: 30, r: 26, b: 60 }, {
        type: 'scatter',
        data: {
            datasets: [
                { data: zipXY(lineX, lineY), borderColor: '#0000FF', borderWidth: 4.5, pointRadius: 0, showLine: true, fill: false },
                { data: band, backgroundColor: 'rgba(190,190,205,0.35)', borderWidth: 0, pointRadius: 0, showLine: true, fill: 'shape' },
                { data: pts, backgroundColor: '#000', borderWidth: 0, pointRadius: 7, showLine: false }
            ]
        },
        options: { scales: { x: xAxis, y: yAxis } }
    });
}

scatterChart({ l: 2177, t: 1575, r: 3058, b: 2418.5 }, classicAxis(-2.92, 61.56, fXTicks), classicAxis(-4.64, 95.1, fYTicks), fX, fY, fClusterX, fClusterY, fLineX, fLineY, fBandX, fBandHi, fBandLo);
addText('(F)', 2135, 1482, 'bold 78px ' + SERIF);
addText('R = 0.72, p&lt;2.2x10<sup>-16</sup>', 2269, 1600, 'bold 40px ' + SERIF, { left: true });
addText('V1-V2 (%)', 2654, 2486, 'bold 51px ' + SERIF);
addText('V3-V4 (%)', 2093, 1988, 'bold 51px ' + SERIF, { rotate: -90 });

scatterChart({ l: 3176, t: 1575, r: 4058, b: 2418.5 }, classicAxis(-3.1, 64.1, gXTicks), classicAxis(-3.1, 66.07, gYTicks), gX, gY, gClusterX, gClusterY, gLineX, gLineY, gBandX, gBandHi, gBandLo);
addText('(G)', 3136, 1482, 'bold 78px ' + SERIF);
addText('R = 0.87, p&lt;2.2x10<sup>-16</sup>', 3254, 1612, 'bold 40px ' + SERIF, { left: true });
addText('V1-V2 (%)', 3654, 2485, 'bold 51px ' + SERIF);
addText('V3-V4 (%)', 3086, 1983, 'bold 51px ' + SERIF, { rotate: -90 });
</script>
</body>
</html>
